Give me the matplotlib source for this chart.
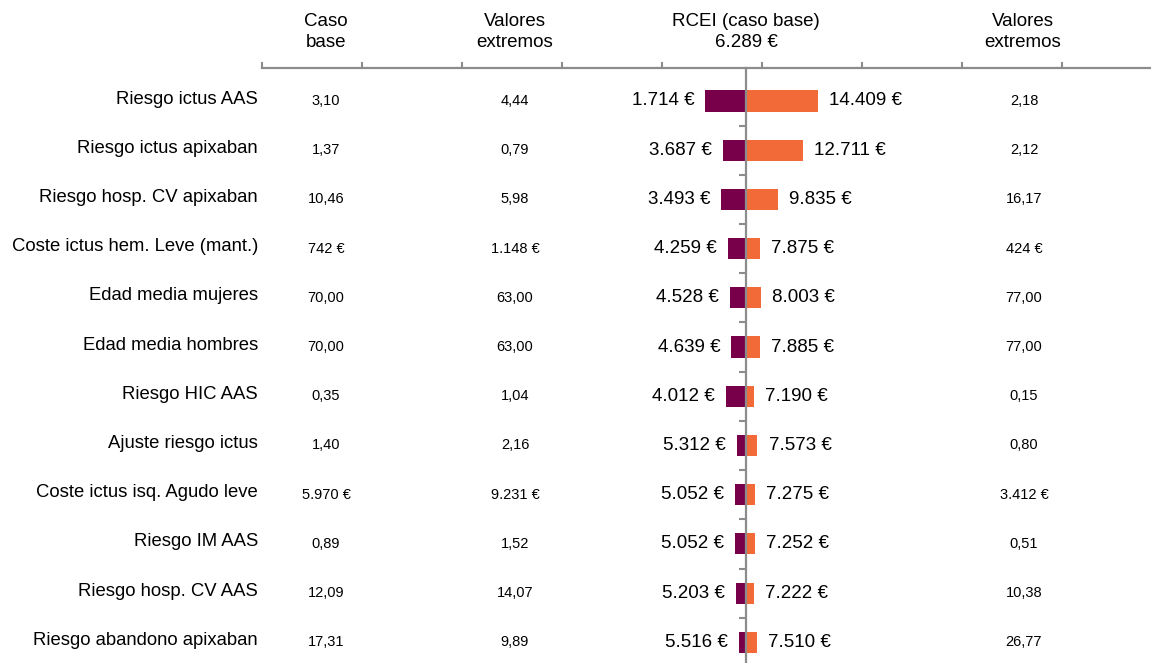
import matplotlib
matplotlib.use("Agg")
import matplotlib.pyplot as plt
import matplotlib.transforms as mtrans
import numpy as np

plt.rcParams["font.family"] = ["Liberation Sans", "DejaVu Sans"]

# ── Data ────────────────────────────────────────────────────────────────
labels = [
    "Riesgo ictus AAS",
    "Riesgo ictus apixaban",
    "Riesgo hosp. CV apixaban",
    "Coste ictus hem. Leve (mant.)",
    "Edad media mujeres",
    "Edad media hombres",
    "Riesgo HIC AAS",
    "Ajuste riesgo ictus",
    "Coste ictus isq. Agudo leve",
    "Riesgo IM AAS",
    "Riesgo hosp. CV AAS",
    "Riesgo abandono apixaban",
]
caso_base = [3.10, 1.37, 10.46, 742, 70.00, 70.00, 0.35, 1.40, 5970, 0.89, 12.09, 17.31]
extremo_bajo = [4.44, 0.79, 5.98, 1148, 63.00, 63.00, 1.04, 2.16, 9231, 1.52, 14.07, 9.89]
extremo_alto = [2.18, 2.12, 16.17, 424, 77.00, 77.00, 0.15, 0.80, 3412, 0.51, 10.38, 26.77]
es_euro = [False, False, False, True, False, False, False, False, True, False, False, False]
rcei_bajo = [1714, 3687, 3493, 4259, 4528, 4639, 4012, 5312, 5052, 5052, 5203, 5516]
rcei_alto = [14409, 12711, 9835, 7875, 8003, 7885, 7190, 7573, 7275, 7252, 7222, 7510]
rcei_base = 6289

# ── Style ───────────────────────────────────────────────────────────────
PURPLE = "#78004a"
ORANGE = "#f26a38"
GREY = "#8c8c8c"
W, H = 1151, 663
EUR_PER_PX = 112.4


def eur(v):
    return f"{int(round(v)):,}".replace(",", ".") + " €"


def num(v, euro):
    return eur(v) if euro else f"{v:.2f}".replace(".", ",")


fig = plt.figure(figsize=(W / 100, H / 100), dpi=100)
ax = fig.add_axes([262 / W, 0, 889 / W, 595 / H])
n = len(labels)
y = np.arange(n)

ax.barh(y, np.array(rcei_bajo) - rcei_base, left=rcei_base, height=0.43,
        color=PURPLE, zorder=2)
ax.barh(y, np.array(rcei_alto) - rcei_base, left=rcei_base, height=0.43,
        color=ORANGE, zorder=2)

ax.set_xlim(rcei_base - 484 * EUR_PER_PX, rcei_base + 405 * EUR_PER_PX)
ax.set_ylim(n - 1 + 0.42, -0.67)

for s in ("right", "bottom", "top"):
    ax.spines[s].set_visible(False)
ax.spines["left"].set_position(("data", rcei_base))
ax.spines["left"].set_color(GREY)
ax.spines["left"].set_linewidth(1.6)
ax.spines["left"].set_zorder(3)
ax.set_xticks([])
ax.set_yticks(y[:-1] + 0.5)
ax.set_yticklabels([])
ax.tick_params(axis="y", direction="out", length=5, width=1.5, color=GREY)

# top rule with ticks, in pixel offsets from its left end
ax2 = ax.twiny()
ax2.set_xlim(0, 889)
ax2.set_xticks(np.arange(0, 801, 100))
ax2.set_xticklabels([])
ax2.tick_params(axis="x", direction="out", length=4, width=1.5, color=GREY)
for s in ("right", "bottom", "left"):
    ax2.spines[s].set_visible(False)
ax2.spines["top"].set_color(GREY)
ax2.spines["top"].set_linewidth(1.6)

# euro labels beside the bars
for i in range(n):
    ax.annotate(eur(rcei_bajo[i]), xy=(rcei_bajo[i], i), xytext=(-8, 0),
                textcoords="offset points", ha="right", va="center", fontsize=13.5)
    ax.annotate(eur(rcei_alto[i]), xy=(rcei_alto[i], i), xytext=(8, 0),
                textcoords="offset points", ha="left", va="center", fontsize=13.5)

# row labels and table columns
for i in range(n):
    ax2.text(-4, i - 0.04, labels[i], ha="right", va="center", fontsize=13.3)
    ax2.text(64, i, num(caso_base[i], es_euro[i]), ha="center", va="center", fontsize=10.5)
    ax2.text(253, i, num(extremo_bajo[i], es_euro[i]), ha="center", va="center", fontsize=10.5)
    ax2.text(762, i, num(extremo_alto[i], es_euro[i]), ha="center", va="center", fontsize=10.5)

# headers
hy = 1 - 32 / H
tr2 = mtrans.blended_transform_factory(ax2.transData, fig.transFigure)
tr1 = mtrans.blended_transform_factory(ax.transData, fig.transFigure)
hdr = dict(ha="center", va="center", fontsize=13.5, linespacing=1.3)
ax2.text(64, hy, "Caso\nbase", transform=tr2, **hdr)
ax2.text(253, hy, "Valores\nextremos", transform=tr2, **hdr)
ax2.text(761, hy, "Valores\nextremos", transform=tr2, **hdr)
ax.text(rcei_base, hy, "RCEI (caso base)\n" + eur(rcei_base), transform=tr1, **hdr)

fig.savefig("out.png", dpi=100)
